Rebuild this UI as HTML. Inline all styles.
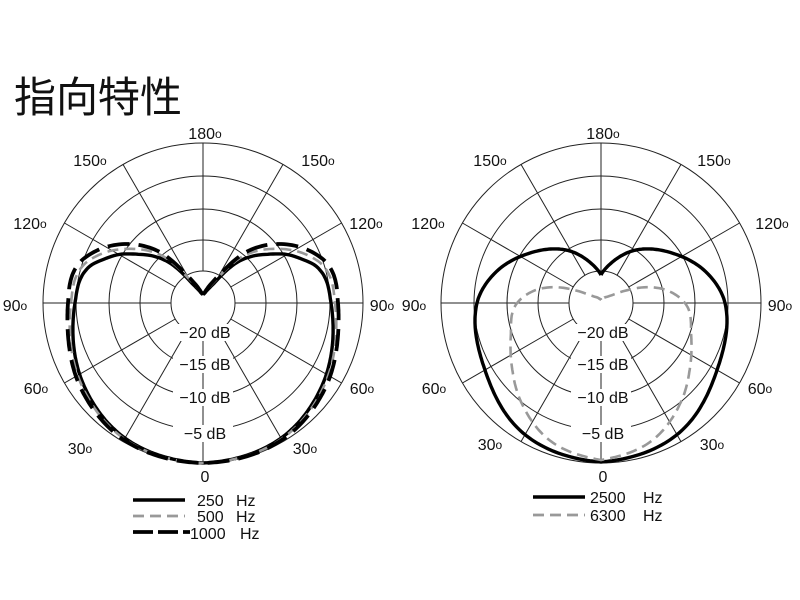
<!DOCTYPE html>
<html><head><meta charset="utf-8"><style>
html,body{margin:0;padding:0;background:#fff;}
svg{display:block;}
text{font-family:"Liberation Sans",Arial,sans-serif;fill:#111;}
</style></head><body>
<svg id="s" width="800" height="600" viewBox="0 0 800 600" xmlns="http://www.w3.org/2000/svg">
<text x="14" y="112" style="font-family:'Liberation Sans','Noto Sans CJK JP',sans-serif;font-size:42px">指向特性</text>
<g id="g"></g>
<line x1="133" y1="500" x2="185" y2="500" stroke="#000" stroke-width="3.5"/>
<line x1="133" y1="516" x2="185" y2="516" stroke="#999" stroke-width="2.8" stroke-dasharray="11 6"/>
<line x1="133" y1="532" x2="190" y2="532" stroke="#000" stroke-width="3.8" stroke-dasharray="20 5"/>
<text x="197" y="506" font-size="16">250</text><text x="236" y="506" font-size="16">Hz</text>
<text x="197" y="522" font-size="16">500</text><text x="236" y="522" font-size="16">Hz</text>
<text x="190" y="539" font-size="16">1000</text><text x="240" y="539" font-size="16">Hz</text>
<line x1="533" y1="497" x2="585" y2="497" stroke="#000" stroke-width="3.5"/>
<line x1="533" y1="515" x2="585" y2="515" stroke="#999" stroke-width="2.8" stroke-dasharray="11 6"/>
<text x="590" y="503" font-size="16">2500</text><text x="643" y="503" font-size="16">Hz</text>
<text x="590" y="521" font-size="16">6300</text><text x="643" y="521" font-size="16">Hz</text>
</svg>
<script>
var NS="http://www.w3.org/2000/svg",G=document.getElementById("g");
function el(t,a,txt){var e=document.createElementNS(NS,t);for(var k in a)e.setAttribute(k,a[k]);if(txt!=null)e.textContent=txt;G.appendChild(e);return e;}
function grid(cx,cy){
 [32,63,94,127,160].forEach(function(r){el("circle",{cx:cx,cy:cy,r:r,fill:"none",stroke:"#222","stroke-width":1});});
 for(var a=0;a<360;a+=30){var t=a*Math.PI/180;var s=Math.sin(t),c=Math.cos(t);
  el("line",{x1:cx+32*s,y1:cy+32*c,x2:cx+160*s,y2:cy+160*c,stroke:"#222","stroke-width":1});}
}
function interp(tab,th){
 for(var i=0;i<tab.length-1;i++){if(th>=tab[i][0]&&th<=tab[i+1][0]){
  var p0=tab[Math.max(i-1,0)],p1=tab[i],p2=tab[i+1],p3=tab[Math.min(i+2,tab.length-1)];
  var u=(th-p1[0])/(p2[0]-p1[0]);
  var m1=(p2[1]-p0[1])/(p2[0]-p0[0]||1)*(p2[0]-p1[0]);
  var m2=(p3[1]-p1[1])/(p3[0]-p1[0]||1)*(p2[0]-p1[0]);
  var u2=u*u,u3=u2*u;
  return (2*u3-3*u2+1)*p1[1]+(u3-2*u2+u)*m1+(-2*u3+3*u2)*p2[1]+(u3-u2)*m2;}}
 return tab[tab.length-1][1];
}
function curve(cx,cy,tab,attrs){
 var d="";
 for(var a=-180;a<=180;a+=1){var r=interp(tab,Math.abs(a));var t=a*Math.PI/180;
  var x=cx+r*Math.sin(t),y=cy+r*Math.cos(t);d+=(a==-180?"M":"L")+x.toFixed(1)+" "+y.toFixed(1);}
 attrs.d=d;attrs.fill="none";el("path",attrs);
}
function lab(x,y,txt,deg,anchor){
 var t=el("text",{x:x,y:y,"font-size":16,"text-anchor":anchor||"middle"},txt);
 if(deg){var ts=document.createElementNS(NS,"tspan");ts.setAttribute("font-size","12");ts.setAttribute("dy","-1");ts.textContent="o";t.appendChild(ts);}
}
function dbl(cx,cy){
 [["−20 dB",338],["−15 dB",370],["−10 dB",403],["−5 dB",439]].forEach(function(p){
  el("rect",{x:cx-30,y:p[1]-14,width:60,height:17,fill:"#fff"});
  lab(cx+2,p[1],p[0],false);});
}
// left
grid(203,303);
curve(203,303,[[0,160],[30,156],[55,145],[76,134],[90,128],[101,125],[108,119],[114,108],[120,97],[127,81],[134,67],[140,53],[150,24],[165,12],[180,8]],{stroke:"#000","stroke-width":3.4});
curve(203,303,[[0,160],[30,157],[55,147],[76,137],[90,132],[101,130],[108,125],[114,116],[120,105],[127,90],[134,75],[140,60],[150,28],[165,13],[180,8]],{stroke:"#999","stroke-width":2.6,"stroke-dasharray":"11 6"});
curve(203,303,[[0,160],[30,158],[55,149],[76,139],[90,135],[101,134],[108,130],[114,122],[120,112],[127,98],[134,82],[140,66],[150,32],[165,14],[180,8]],{stroke:"#000","stroke-width":3.8,"stroke-dasharray":"22 9"});
dbl(203,303);
lab(205,139,"180",1);lab(90,166,"150",1);lab(318,166,"150",1);lab(30,229,"120",1);lab(366,229,"120",1);
lab(15,311,"90",1);lab(382,311,"90",1);lab(36,394,"60",1);lab(362,394,"60",1);lab(80,454,"30",1);lab(305,454,"30",1);lab(205,482,"0",0);
// right
grid(601,303);
curve(601,303,[[0,159],[30,152],[60,134],[90,124],[106,110],[125,87],[147,63],[165,42],[180,28]],{stroke:"#000","stroke-width":3.4});
curve(601,303,[[0,157],[20,147],[40,126],[54,110],[70,96],[88,86],[101,67],[110,46],[117,27],[126,13],[150,6],[180,3]],{stroke:"#999","stroke-width":2.6,"stroke-dasharray":"11 6"});
dbl(601,303);
lab(603,139,"180",1);lab(490,166,"150",1);lab(714,166,"150",1);lab(428,229,"120",1);lab(772,229,"120",1);
lab(414,311,"90",1);lab(780,311,"90",1);lab(434,394,"60",1);lab(760,394,"60",1);lab(490,450,"30",1);lab(712,450,"30",1);lab(603,482,"0",0);
</script>
</body></html>
